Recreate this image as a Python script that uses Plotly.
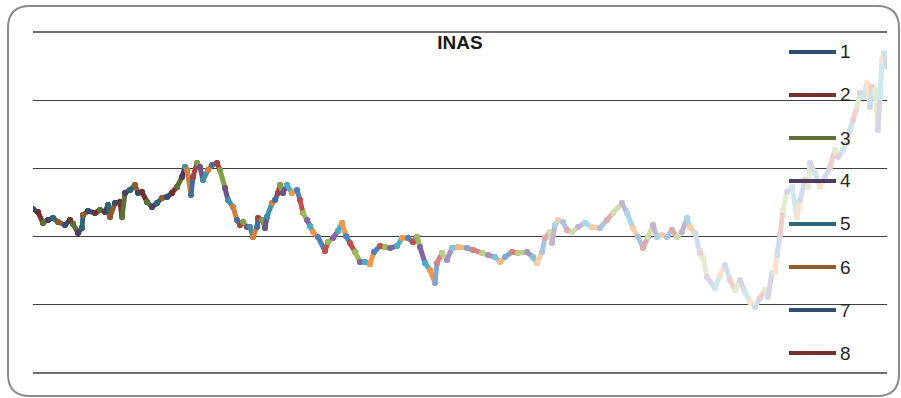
import plotly.graph_objects as go

# Trading-day index and closing level of the INAS price path
days = [0, 5, 10, 15, 20, 25, 32, 37, 40, 45, 49, 50, 55, 62, 67, 72, 75, 77, 82, 87,
        89, 92, 97, 102, 105, 109, 114, 119, 124, 129, 134, 139, 144, 149, 152, 154, 158, 160, 164, 167,
        170, 175, 179, 184, 187, 192, 195, 200, 204, 207, 210, 214, 217, 220, 224, 225, 229, 232, 234, 239,
        242, 245, 247, 250, 254, 259, 264, 267, 270, 274, 277, 280, 285, 292, 295, 300, 305, 309, 313, 317,
        322, 327, 332, 337, 341, 347, 352, 357, 364, 369, 375, 380, 384, 387, 392, 397, 402, 404, 409, 414,
        419, 425, 434, 440, 449, 455, 462, 467, 472, 479, 485, 494, 500, 504, 509, 512, 517, 519, 522, 525,
        530, 534, 539, 545, 552, 559, 567, 574, 580, 589, 594, 600, 605, 610, 615, 620, 624, 629, 634, 639,
        644, 649, 654, 657, 662, 667, 670, 674, 682, 687, 692, 697, 702, 707, 712, 717, 722, 727, 732, 735,
        739, 742, 744, 747, 750, 754, 759, 764, 767, 772, 775, 777, 782, 787, 792, 797, 802, 805, 810, 814,
        817, 820, 824, 827, 830, 834, 837, 839, 842, 845, 847, 849, 851, 854]

values = [1202, 1180, 1100, 1122, 1136, 1107, 1085, 1122, 1092, 1026, 1063, 1158, 1188, 1173, 1195, 1180, 1232, 1144, 1246, 1254,
          1144, 1320, 1342, 1378, 1320, 1327, 1254, 1217, 1246, 1283, 1290, 1320, 1364, 1437, 1510, 1488, 1305, 1437, 1540, 1510,
          1415, 1488, 1525, 1540, 1488, 1356, 1268, 1217, 1122, 1085, 1107, 1070, 1070, 997, 1070, 1136, 1122, 1063, 1144, 1246,
          1268, 1320, 1378, 1320, 1378, 1320, 1342, 1268, 1173, 1122, 1078, 1034, 997, 894, 960, 990, 1041, 1100, 1004, 953,
          887, 814, 814, 799, 887, 931, 924, 916, 931, 990, 990, 960, 997, 924, 806, 755, 660, 806, 880, 828,
          916, 924, 916, 902, 880, 865, 850, 814, 850, 887, 880, 887, 850, 806, 887, 990, 1034, 953, 1085, 1122,
          1107, 1048, 1034, 1070, 1100, 1070, 1063, 1122, 1173, 1246, 1173, 1063, 997, 916, 997, 1085, 997, 1012, 997, 1048,
          997, 1034, 1136, 1070, 1026, 880, 843, 704, 623, 718, 792, 682, 608, 682, 594, 521, 484, 550, 608, 557,
          733, 740, 865, 1012, 1195, 1327, 1364, 1144, 1268, 1415, 1364, 1540, 1466, 1364, 1437, 1510, 1635, 1584, 1635, 1686,
          1781, 1855, 1950, 2053, 2023, 2126, 1950, 2097, 2075, 1781, 2023, 2295, 2346, 2243]

# Each chart series is one short step of the path
POINTS_PER_SERIES = 2
series_names = [str(i + 1) for i in range((len(days) - 1) // (POINTS_PER_SERIES - 1))]

ACCENTS = ["#4F81BD", "#C0504D", "#9BBB59", "#8064A2", "#4BACC6", "#F79646"]
# (last day of band, shade) : negative darkens, positive lightens
SHADE_BANDS = [(150, -0.4), (250, -0.15), (400, 0.0), (500, 0.3), (660, 0.52), (10_000, 0.72)]


def shade(hex_color, t):
    r, g, b = (int(hex_color[i:i + 2], 16) for i in (1, 3, 5))
    if t < 0:
        r, g, b = (round(c * (1 + t)) for c in (r, g, b))
    else:
        r, g, b = (round(c + (255 - c) * t) for c in (r, g, b))
    return f"#{r:02x}{g:02x}{b:02x}"


def band_shade(day):
    for end, t in SHADE_BANDS:
        if day <= end:
            return t
    return SHADE_BANDS[-1][1]


fig = go.Figure()
colors = []
step = POINTS_PER_SERIES - 1
for k, name in enumerate(series_names):
    lo = k * step
    hi = min(lo + POINTS_PER_SERIES, len(days))
    xs, ys = days[lo:hi], values[lo:hi]
    col = shade(ACCENTS[k % len(ACCENTS)], band_shade(xs[0]))
    colors.append(col)
    fig.add_trace(go.Scatter(
        x=xs, y=ys, name=name, mode="lines+markers",
        line=dict(color=col, width=5),
        marker=dict(color=col, size=6),
        showlegend=False, hoverinfo="skip",
    ))

W, H = 901, 398
L, R, T, B = 33, 14, 32, 25
PW, PH = W - L - R, H - T - B


def px(xp):
    return (xp - L) / PW


def py(yp):
    return (H - B - yp) / PH


shapes = []
annotations = []

# Top and bottom gridlines along the plot edges
for yv in (0, 1):
    shapes.append(dict(type="line", xref="paper", yref="paper", x0=0, x1=1, y0=yv, y1=yv,
                       line=dict(color="#3f3f3f", width=1.3), layer="below"))

# Legend drawn at the right edge: series 1-8
for i in range(8):
    yc = 52 + i * 43
    shapes.append(dict(type="line", xref="paper", yref="paper",
                       x0=px(789), x1=px(836), y0=py(yc), y1=py(yc),
                       line=dict(color=colors[i], width=4)))
    annotations.append(dict(text=series_names[i], xref="paper", yref="paper",
                            x=px(838), y=py(yc), xanchor="left", yanchor="middle",
                            showarrow=False,
                            font=dict(family="Liberation Sans", size=19, color="#262626")))

# Rounded chart border
x0, x1, y0, y1, r = px(8), px(899), py(6), py(396), 22
rx, ry = r / PW, r / PH
path = (f"M{x0},{y0 - ry} L{x0},{y1 + ry} Q{x0},{y1} {x0 + rx},{y1} "
        f"L{x1 - rx},{y1} Q{x1},{y1} {x1},{y1 + ry} L{x1},{y0 - ry} "
        f"Q{x1},{y0} {x1 - rx},{y0} L{x0 + rx},{y0} Q{x0},{y0} {x0},{y0 - ry} Z")
shapes.append(dict(type="path", xref="paper", yref="paper", path=path,
                   line=dict(color="#8c8c8c", width=2), layer="below"))

fig.update_layout(
    width=W, height=H,
    margin=dict(l=L, r=R, t=T, b=B),
    paper_bgcolor="white", plot_bgcolor="white",
    title=dict(text="<b>INAS</b>", x=px(460), xref="paper", xanchor="center",
               y=1 - 42 / H, yref="container", yanchor="middle",
               font=dict(family="Liberation Sans", size=19, color="#1a1a1a")),
    xaxis=dict(range=[0, 854], showgrid=False, zeroline=False, showticklabels=False,
               ticks="", showline=False),
    yaxis=dict(range=[0, 2500], dtick=500, tick0=0, showgrid=True, gridcolor="#3f3f3f",
               gridwidth=1.3, zeroline=False, showticklabels=False, ticks="", showline=False),
    shapes=shapes,
    annotations=annotations,
    showlegend=False,
)

fig.write_html("out.html")
